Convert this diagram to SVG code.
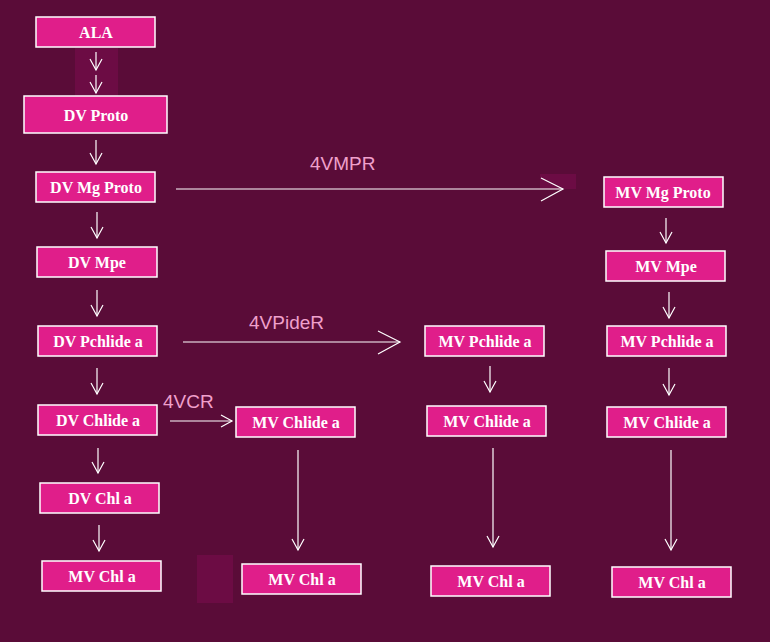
<svg xmlns="http://www.w3.org/2000/svg" width="770" height="642" viewBox="0 0 770 642">
<style>
.n rect{fill:#e01e8a;stroke:#fff;stroke-width:1.5}
.n text{font-family:"Liberation Serif",serif;font-weight:bold;font-size:16px;fill:#fff;text-anchor:middle}
.c line{stroke:#fff;stroke-width:1.2}
.l{font-family:"Liberation Sans",sans-serif;font-size:19px;fill:#f0a0cc}
</style>
<defs><marker id="a" markerWidth="14" markerHeight="14" refX="12" refY="7" orient="auto" markerUnits="userSpaceOnUse"><path d="M1,1 L12,7 L1,13" fill="none" stroke="#fff" stroke-width="1.2"/></marker>
<marker id="b" markerWidth="28" markerHeight="28" refX="24" refY="12" orient="auto" markerUnits="userSpaceOnUse"><path d="M2,1 L24,12 L2,24" fill="none" stroke="#fff" stroke-width="1.2"/></marker></defs>
<rect width="770" height="642" fill="#5a0c38"/>
<rect x="75" y="48" width="43" height="48" fill="#6c0c44"/>
<rect x="540" y="174" width="36" height="15" fill="#6c0c44"/>
<rect x="197" y="555" width="36" height="48" fill="#6c0c44"/>
<g class="c">
<line x1="96" y1="52" x2="96" y2="70" marker-end="url(#a)"/>
<line x1="96" y1="75" x2="96" y2="93" marker-end="url(#a)"/>
<line x1="96" y1="140" x2="96" y2="164" marker-end="url(#a)"/>
<line x1="97" y1="212" x2="97" y2="238" marker-end="url(#a)"/>
<line x1="97" y1="290" x2="97" y2="316" marker-end="url(#a)"/>
<line x1="97" y1="368" x2="97" y2="394" marker-end="url(#a)"/>
<line x1="98" y1="448" x2="98" y2="473" marker-end="url(#a)"/>
<line x1="99" y1="525" x2="99" y2="551" marker-end="url(#a)"/>
<line x1="176" y1="189" x2="563" y2="189" marker-end="url(#b)"/>
<line x1="183" y1="342" x2="400" y2="342" marker-end="url(#b)"/>
<line x1="170" y1="421" x2="232" y2="421" marker-end="url(#a)"/>
<line x1="666" y1="218" x2="666" y2="243" marker-end="url(#a)"/>
<line x1="669" y1="292" x2="669" y2="318" marker-end="url(#a)"/>
<line x1="669" y1="368" x2="669" y2="395" marker-end="url(#a)"/>
<line x1="490" y1="366" x2="490" y2="392" marker-end="url(#a)"/>
<line x1="298" y1="450" x2="298" y2="550" marker-end="url(#a)"/>
<line x1="493" y1="448" x2="493" y2="547" marker-end="url(#a)"/>
<line x1="671" y1="450" x2="671" y2="550" marker-end="url(#a)"/>
</g>
<text class="l" x="310" y="170">4VMPR</text>
<text class="l" x="249" y="329">4VPideR</text>
<text class="l" x="163" y="408">4VCR</text>
<g id="ala" class="n"><rect x="36" y="17" width="119" height="30"/><text x="96" y="38">ALA</text></g>
<g id="dvproto" class="n"><rect x="24" y="96" width="143" height="37"/><text x="96" y="121">DV Proto</text></g>
<g id="dvmgproto" class="n"><rect x="36" y="172" width="119" height="30"/><text x="96" y="193">DV Mg Proto</text></g>
<g id="mvmgproto" class="n"><rect x="604" y="177" width="119" height="30"/><text x="663" y="198">MV Mg Proto</text></g>
<g id="dvmpe" class="n"><rect x="37" y="247" width="120" height="30"/><text x="97" y="268">DV Mpe</text></g>
<g id="mvmpe" class="n"><rect x="606" y="251" width="119" height="30"/><text x="666" y="272">MV Mpe</text></g>
<g id="dvpchlide" class="n"><rect x="38" y="326" width="119" height="30"/><text x="98" y="347">DV Pchlide a</text></g>
<g id="mvpchlide1" class="n"><rect x="425" y="326" width="119" height="30"/><text x="485" y="347">MV Pchlide a</text></g>
<g id="mvpchlide2" class="n"><rect x="607" y="326" width="119" height="30"/><text x="667" y="347">MV Pchlide a</text></g>
<g id="dvchlide" class="n"><rect x="38" y="405" width="119" height="30"/><text x="98" y="426">DV Chlide a</text></g>
<g id="mvchlide1" class="n"><rect x="236" y="407" width="119" height="30"/><text x="296" y="428">MV Chlide a</text></g>
<g id="mvchlide2" class="n"><rect x="427" y="406" width="119" height="30"/><text x="487" y="427">MV Chlide a</text></g>
<g id="mvchlide3" class="n"><rect x="607" y="407" width="119" height="30"/><text x="667" y="428">MV Chlide a</text></g>
<g id="dvchl" class="n"><rect x="40" y="483" width="119" height="30"/><text x="100" y="504">DV Chl a</text></g>
<g id="mvchl0" class="n"><rect x="42" y="561" width="119" height="30"/><text x="102" y="582">MV Chl a</text></g>
<g id="mvchl1" class="n"><rect x="242" y="564" width="119" height="30"/><text x="302" y="585">MV Chl a</text></g>
<g id="mvchl2" class="n"><rect x="431" y="566" width="119" height="30"/><text x="491" y="587">MV Chl a</text></g>
<g id="mvchl3" class="n"><rect x="612" y="567" width="119" height="30"/><text x="672" y="588">MV Chl a</text></g>
</svg>
